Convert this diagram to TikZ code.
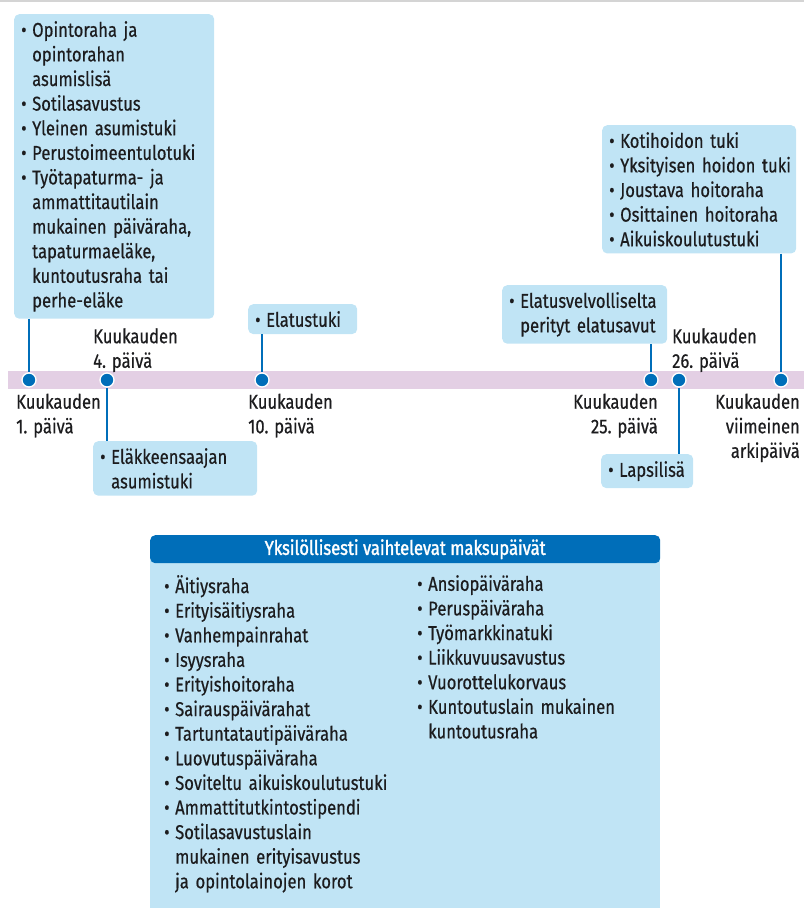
\documentclass[tikz,border=0pt]{standalone}
\usepackage{fontspec}
\setmainfont{Fira Sans}[FakeStretch=0.83, FakeBold=0.5]
\newfontfamily\otsikkofontti{Fira Sans}[FakeStretch=0.83, FakeBold=1.6]
\usetikzlibrary{positioning}
\definecolor{vaalea}{RGB}{192,228,245}
\definecolor{kelasin}{RGB}{0,110,185}
\definecolor{nauha}{RGB}{227,207,228}
\definecolor{teksti}{RGB}{28,28,30}
\definecolor{harmaa}{RGB}{212,212,212}
% luettelon kohta: luoti reunaan, rivit sisennettyinä
\newcommand{\kohta}[1]{\leftskip=11pt\noindent\llap{\makebox[11pt][l]{\textbullet}}#1\par}
\tikzset{
  perus/.style={font=\fontsize{20}{24.6}\selectfont, text=teksti},
  laatikko/.style={perus, fill=vaalea, rounded corners=5pt, anchor=north west,
    inner xsep=7pt, inner ysep=7pt, align=left},
  piste/.style={circle, fill=kelasin, draw=white, line width=1.3pt, minimum size=14pt, inner sep=0pt},
  yhteys/.style={draw=kelasin, line width=1.2pt},
  paiva/.style={perus, inner sep=0pt},
  otsikko/.style={fill=kelasin, text=white, rounded corners=5pt, anchor=north west,
    font=\otsikkofontti\fontsize{20}{24}\selectfont, minimum width=510pt, minimum height=28pt, inner sep=0pt}
}
\begin{document}
\begin{tikzpicture}[x=1pt,y=-1pt]
  \useasboundingbox (0,0) rectangle (804,908);
  % yläreunan viiva
  \draw[harmaa, line width=2pt] (0,1) -- (804,1);
  % aikajana
  \fill[nauha] (8,371) rectangle (804,389);
  \foreach \n/\x in {1/29, 2/107, 3/262, 4/651, 5/679, 6/781}
    \node[piste] (d\n) at (\x,380) {};
  % laatikot aikajanan yllä ja alla
  \node[laatikko, text width=186pt] (opinto) at (14,14) {%
    \kohta{Opintoraha ja\newline opintorahan\newline asumislisä}
    \kohta{Sotilasavustus}
    \kohta{Yleinen asumistuki}
    \kohta{Perustoimeentulotuki}
    \kohta{Työtapaturma- ja\newline ammattitautilain\newline mukainen päiväraha,\newline tapaturmaeläke,\newline kuntoutusraha tai\newline perhe-eläke}};
  \node[laatikko, text width=150pt] (elake) at (93,441) {%
    \kohta{Eläkkeensaajan\newline asumistuki}};
  \node[laatikko, text width=95pt] (elatus) at (248,304) {\kohta{Elatustuki}};
  \node[laatikko, text width=151pt] (velvol) at (502,285) {%
    \kohta{Elatusvelvolliselta\newline perityt elatusavut}};
  \node[laatikko, text width=180pt] (koti) at (602,125) {%
    \kohta{Kotihoidon tuki}
    \kohta{\mbox{Yksityisen hoidon tuki}}
    \kohta{Joustava hoitoraha}
    \kohta{Osittainen hoitoraha}
    \kohta{Aikuiskoulutustuki}};
  \node[laatikko, text width=78pt] (lapsi) at (601,454) {\kohta{Lapsilisä}};
  % yhdysviivat
  \draw[yhteys] (opinto.south -| d1) -- (d1);
  \draw[yhteys] (d2) -- (d2 |- elake.north);
  \draw[yhteys] (elatus.south -| d3) -- (d3);
  \draw[yhteys] (velvol.south -| d4) -- (d4);
  \draw[yhteys] (d5) -- (d5 |- lapsi.north);
  \draw[yhteys] (koti.south -| d6) -- (d6);
  % päivämäärät
  \node[paiva, anchor=north west, align=left] (p1) at (16,393.5) {Kuukauden\\1. päivä};
  \node[paiva, anchor=north west, align=left] (p2) at (93,328) {Kuukauden\\4. päivä};
  \node[paiva, anchor=north west, align=left] (p3) at (248,393.5) {Kuukauden\\10. päivä};
  \node[paiva, anchor=north east, align=right] (p4) at (658,393.5) {Kuukauden\\25. päivä};
  \node[paiva, anchor=north west, align=left] (p5) at (672,328) {Kuukauden\\26. päivä};
  \node[paiva, anchor=north east, align=right] (p6) at (800,393.5) {Kuukauden\\viimeinen\\arkipäivä};
  % yksilöllisesti vaihtelevat
  \fill[vaalea] (150,555) rectangle (660,915);
  \node[otsikko] (otsikko) at (150,535) {Yksilöllisesti vaihtelevat maksupäivät};
  \node[perus, anchor=north west, text width=240pt, align=left, inner sep=0pt] (vasen) at (164,575) {%
    \kohta{Äitiysraha}
    \kohta{Erityisäitiysraha}
    \kohta{Vanhempainrahat}
    \kohta{Isyysraha}
    \kohta{Erityishoitoraha}
    \kohta{Sairauspäivärahat}
    \kohta{Tartuntatautipäiväraha}
    \kohta{Luovutuspäiväraha}
    \kohta{Soviteltu aikuiskoulutustuki}
    \kohta{Ammattitutkintostipendi}
    \kohta{Sotilasavustuslain\newline mukainen erityisavustus\newline ja opintolainojen korot}};
  \node[perus, anchor=north west, text width=230pt, align=left, inner sep=0pt] (oikea) at (417,575) {%
    \kohta{Ansiopäiväraha}
    \kohta{Peruspäiväraha}
    \kohta{Työmarkkinatuki}
    \kohta{Liikkuvuusavustus}
    \kohta{Vuorottelukorvaus}
    \kohta{Kuntoutuslain mukainen\newline kuntoutusraha}};
\end{tikzpicture}
\end{document}
